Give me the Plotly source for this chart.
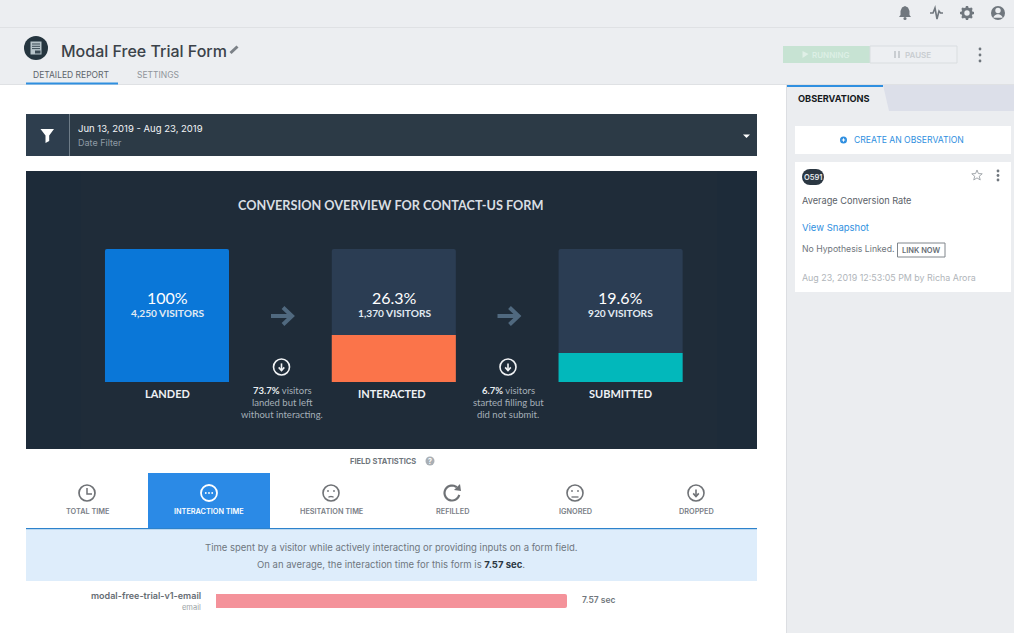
# Form analytics report screen
import math
import plotly.graph_objects as go

W, H = 1014, 633
UI = 'Inter'
PANEL = 'Lato'

stages = ['LANDED', 'INTERACTED', 'SUBMITTED']
stage_pct = ['100%', '26.3%', '19.6%']
stage_visitors = ['4,250', '1,370', '920']
stage_track = [100, 100, 100]
stage_fill = [100, 35.3, 21.8]
stage_colors = ['#0a77d8', '#fb744a', '#02b8bb']
drop_pct = ['73.7%', '6.7%']
drop_lines = [
	['visitors', 'landed but left', 'without interacting.'],
	['visitors', 'started filling but', 'did not submit.'],
]
tab_names = ['TOTAL TIME', 'INTERACTION TIME', 'HESITATION TIME', 'REFILLED', 'IGNORED', 'DROPPED']
field_names = ['modal-free-trial-v1-email']
field_types = ['email']
field_times = [7.57]

shapes, notes = [], []

def X(v):
	return v / W

def Y(v):
	return 1 - v / H

def rect(x0, y0, x1, y1, color, line=None, width=1, layer='below'):
	shapes.append(dict(type='rect', xref='paper', yref='paper', x0=X(x0), x1=X(x1), y0=Y(y0), y1=Y(y1),
		fillcolor=color, line=dict(color=line or color, width=width if line else 0), layer=layer))

def circle(cx, cy, r, fill=None, line=None, width=1.5):
	shapes.append(dict(type='circle', xref='paper', yref='paper', x0=X(cx - r), x1=X(cx + r), y0=Y(cy - r), y1=Y(cy + r),
		fillcolor=fill or 'rgba(0,0,0,0)', line=dict(color=line or 'rgba(0,0,0,0)', width=width if line else 0), layer='above'))

def path(points, fill=None, line=None, width=1.5, close=False):
	d = 'M ' + ' L '.join(f'{X(a):.5f} {Y(b):.5f}' for a, b in points)
	if close:
		d += ' Z'
	shapes.append(dict(type='path', xref='paper', yref='paper', path=d,
		fillcolor=fill or 'rgba(0,0,0,0)', line=dict(color=line or 'rgba(0,0,0,0)', width=width if line else 0), layer='above'))

def arc(cx, cy, r, a0, a1, n=24):
	return [(cx + r * math.cos(math.radians(a0 + (a1 - a0) * i / n)),
		cy + r * math.sin(math.radians(a0 + (a1 - a0) * i / n))) for i in range(n + 1)]

def label(x, y, text, size, color, anchor='left', family=UI, weight=None):
	font = dict(family=family, size=size, color=color)
	if weight:
		font['weight'] = weight
	notes.append(dict(xref='paper', yref='paper', x=X(x), y=Y(y), text=text, showarrow=False, font=font,
		xanchor=anchor, yanchor='middle', borderpad=0, borderwidth=0))

def kebab(x, ys, color='#70777e'):
	for y in ys:
		circle(x, y, 1.4, fill=color)

def down_circle(cx, cy, r, color, width=1.6):
	circle(cx, cy, r, line=color, width=width)
	path([(cx, cy - r * 0.45), (cx, cy + r * 0.4)], line=color, width=width)
	path([(cx - r * 0.35, cy + r * 0.05), (cx, cy + r * 0.45), (cx + r * 0.35, cy + r * 0.05)], line=color, width=width)

# page regions
rect(0, 0, W, 27, '#eceef1')
rect(0, 27, W, 28, '#dfe1e4')
rect(0, 28, W, 84, '#eceef1')
rect(0, 84, W, 85, '#dfe1e4')
rect(786, 85, W, H, '#ebedf0')
rect(786, 85, 787, H, '#dcdee2')

# top bar icons
path([(905, 6), (902, 7.5), (900.5, 11), (900.5, 15), (899, 17), (911, 17), (909.5, 15), (909.5, 11), (908, 7.5)], fill='#70777e', close=True)
circle(905, 18.5, 1.6, fill='#70777e')
path([(930, 13), (933, 13), (935, 8), (937, 19), (939, 11), (940.5, 13), (943, 13)], line='#70777e', width=1.6)
circle(967, 13, 4.2, line='#70777e', width=3)
for a in range(0, 360, 45):
	p = math.radians(a)
	path([(967 + 4.5 * math.cos(p), 13 + 4.5 * math.sin(p)), (967 + 7 * math.cos(p), 13 + 7 * math.sin(p))], line='#70777e', width=2.4)
circle(998, 13, 7, fill='#70777e')
circle(998, 10.5, 2.7, fill='#eceef1')
path(arc(998, 19, 4.8, 195, 345), fill='#eceef1', close=True)

# header
circle(36, 48, 12, fill='#25353f')
rect(30.5, 41.5, 41.5, 54.5, '#b7c4ca', layer='above')
for y in (44, 46.3, 48.6):
	path([(32, y), (40, y)], line='#3a4a54', width=1)
rect(35, 50.5, 40.5, 53.5, '#3a4a54', layer='above')
label(61, 51, 'Modal Free Trial Form', 16, '#3b4249', weight=500)
path([(230.5, 53), (237.5, 46.5)], line='#7b8187', width=3)
label(33, 75, 'DETAILED REPORT', 8.5, '#5d646b')
label(137, 75, 'SETTINGS', 8.5, '#90959b')
rect(26, 82.5, 118, 84.5, '#2f8fe0')

# run controls
rect(783, 46, 870, 63, '#c7e3d3')
rect(870, 46, 957, 63, '#edeff2', line='#d9dde0')
path([(802.5, 51), (808.5, 54), (802.5, 58)], fill='#e0f0e7', close=True)
label(812, 55, 'RUNNING', 8, '#dcefe5', weight=600)
rect(894, 51, 896, 58, '#c9cdd1', layer='above')
rect(898, 51, 900, 58, '#c9cdd1', layer='above')
label(905, 55, 'PAUSE', 8, '#c9cdd1', weight=600)
kebab(980, [49, 55, 61])

# filter bar
rect(26, 114, 757, 156, '#2c3a46')
rect(26, 114, 69, 156, '#2e3e4e')
rect(69, 114, 70, 156, '#6e7c88')
path([(40.5, 129), (54, 129), (49.2, 135.5), (49.2, 141), (45.5, 143), (45.5, 135.5)], fill='#ffffff', close=True)
label(78, 128.5, 'Jun 13, 2019 - Aug 23, 2019', 9.5, '#f2f4f6')
label(78, 142, 'Date Filter', 9, '#8f9ba5')
path([(743, 134.5), (750, 134.5), (746.5, 138)], fill='#ffffff', close=True)

# conversion panel
rect(26, 171, 757, 449, '#1f2c39')
rect(26, 171, 81, 449, '#1d2b39')
rect(717, 171, 757, 449, '#1d2b39')
label(238, 205, 'CONVERSION OVERVIEW FOR <b>CONTACT-US FORM</b>', 12.7, '#d9dee3', family=PANEL, weight=700)

centers = [167, 394, 620.5]
name_x = [167, 392, 620.5]
for cx, nx, pct, vis, name in zip(centers, name_x, stage_pct, stage_visitors, stages):
	label(cx, 297.5, pct, 16, '#ffffff', 'center', PANEL)
	label(cx, 313, vis + ' VISITORS', 10.2, '#e1eaf2', 'center', PANEL, 700)
	label(nx, 393.5, name, 11, '#eef1f4', 'center', PANEL, 700)

for cx, pct, lines in zip([282, 508.5], drop_pct, drop_lines):
	path([(cx - 11, 316), (cx + 8, 316)], line='#50697f', width=4)
	path([(cx + 1, 307.5), (cx + 10, 316), (cx + 1, 324.5)], line='#50697f', width=4)
	down_circle(cx - 0.5, 367, 8, '#f2f4f6')
	label(cx, 390.5, f'<b style="color:#e8ecef">{pct}</b> {lines[0]}', 9.5, '#a5afb8', 'center', PANEL)
	label(cx, 402.5, lines[1], 9.5, '#a5afb8', 'center', PANEL)
	label(cx, 414.5, lines[2], 9.5, '#a5afb8', 'center', PANEL)

# field statistics
label(382.5, 461, 'FIELD STATISTICS', 7.5, '#70767c', 'center', weight=700)
circle(430, 461, 4.5, fill='#a9afb5')
label(430, 461, '?', 7, '#ffffff', 'center', weight=700)

rect(148, 473, 270, 529, '#2b8ae6')
rect(26, 528, 757, 529.5, '#2d82cc')
rect(26, 529.5, 757, 581, '#deedfb')
tab_x = [87, 209, 331, 452, 575, 696]
for i, (tx, name) in enumerate(zip(tab_x, tab_names)):
	label(tx, 511, name, 7.3, '#ffffff' if i == 1 else '#7a8087', 'center', weight=600)

ic = '#6f7276'
circle(87, 493, 8, line=ic, width=1.7)
path([(87, 488), (87, 494), (92, 494)], line=ic, width=1.5)
circle(209, 493, 8, line='#ffffff', width=1.8)
for dx in (-3.2, 0, 3.2):
	circle(209 + dx, 493, 0.9, fill='#ffffff')
circle(331, 493, 8, line=ic, width=1.6)
circle(328, 491, 0.9, fill=ic)
circle(334, 491, 0.9, fill=ic)
path(arc(331, 501, 4.5, 235, 305, 10), line=ic, width=1.3)
path(arc(452, 493, 7.5, 15, 310), line=ic, width=2.2)
path([(460, 484), (461, 491), (454, 490)], fill=ic, close=True)
circle(575, 493, 8, line=ic, width=1.6)
circle(572, 491, 0.9, fill=ic)
circle(578, 491, 0.9, fill=ic)
path([(571.5, 497), (578.5, 497)], line=ic, width=1.3)
down_circle(696, 493, 8, ic)

label(391, 547, 'Time spent by a visitor while actively interacting or providing inputs on a form field.', 9.5, '#6f7780', 'center')
label(391, 564, f'On an average, the interaction time for this form is <b style="color:#2b3742">{field_times[0]} sec</b>.', 9.5, '#6f7780', 'center')

label(201, 595, field_names[0], 9, '#666d74', 'right', weight=600)
label(201, 607, field_types[0], 7.5, '#9a9fa5', 'right')
label(582, 600, f'{field_times[0]} sec', 8.5, '#70767c', weight=600)

# observations sidebar
path([(883, 85), (W, 85), (W, 111), (889, 111)], fill='#dcdfe9', close=True)
rect(787, 85, 883, 87, '#2f8fe0', layer='above')
label(798, 98, 'OBSERVATIONS', 9.2, '#15191d', weight=700)
rect(795, 126, 1011, 154, '#ffffff')
circle(843.5, 140, 3.5, fill='#2f8fe0')
path([(841.8, 140), (845.2, 140)], line='#ffffff', width=1)
path([(843.5, 138.3), (843.5, 141.7)], line='#ffffff', width=1)
label(854, 140, 'CREATE AN OBSERVATION', 8.6, '#2f8fe0')
rect(795, 162, 1011, 292, '#ffffff')
circle(810, 177, 8, fill='#2b3742')
circle(816, 177, 8, fill='#2b3742')
rect(810, 169, 816, 185, '#2b3742', layer='above')
label(813, 177, 'O591', 7.5, '#e8ebee', 'center', weight=600)
star = []
for i in range(10):
	r = 5.5 if i % 2 == 0 else 2.4
	a = math.radians(-90 + i * 36)
	star.append((977 + r * math.cos(a), 175.5 + r * math.sin(a)))
path(star, line='#a4a9ae', width=1, close=True)
kebab(998, [171, 175.5, 180])
label(802, 200, 'Average Conversion Rate', 9.2, '#5a6168')
label(802, 228, 'View Snapshot', 9.5, '#2f8fe0')
label(802, 249, 'No Hypothesis Linked.', 8.7, '#70767c')
rect(897.5, 243, 945, 257, '#ffffff', line='#80868c', layer='above')
label(921, 250, 'LINK NOW', 7.5, '#666d74', 'center', weight=600)
label(802, 278, 'Aug 23, 2019 12:53:05 PM by Richa Arora', 8.9, '#b0b5ba')

fig = go.Figure()
fig.add_trace(go.Bar(x=stages, y=stage_track, width=0.547, marker=dict(color='#2b3d53', cornerradius=2, line_width=0),
	hoverinfo='skip', xaxis='x', yaxis='y'))
fig.add_trace(go.Bar(x=stages, y=stage_fill, width=0.547, marker=dict(color=stage_colors, cornerradius=2, line_width=0),
	hoverinfo='skip', xaxis='x', yaxis='y'))
fig.add_trace(go.Bar(y=field_names, x=field_times, orientation='h', width=1, marker=dict(color='#f4929a', cornerradius=2, line_width=0),
	hoverinfo='skip', xaxis='x2', yaxis='y2'))

fig.update_layout(
	width=W, height=H, margin=dict(l=0, r=0, t=0, b=0), autosize=False,
	paper_bgcolor='#ffffff', plot_bgcolor='rgba(0,0,0,0)', showlegend=False, barmode='overlay',
	shapes=shapes, annotations=notes,
	xaxis=dict(domain=[X(53.6), X(734)], type='category', range=[-0.5, 2.5], visible=False, fixedrange=True),
	yaxis=dict(domain=[Y(382), Y(249)], range=[0, 100], visible=False, fixedrange=True),
	xaxis2=dict(domain=[X(216), X(567)], range=[0, field_times[0]], visible=False, anchor='y2', fixedrange=True),
	yaxis2=dict(domain=[Y(608), Y(594)], type='category', range=[-0.5, 0.5], visible=False, anchor='x2', fixedrange=True),
)

# the page body has a default margin that would shift the whole screen
fig.write_html('out.html', config=dict(displayModeBar=False),
	post_script="document.body.style.margin='0';document.body.style.overflow='hidden';")
